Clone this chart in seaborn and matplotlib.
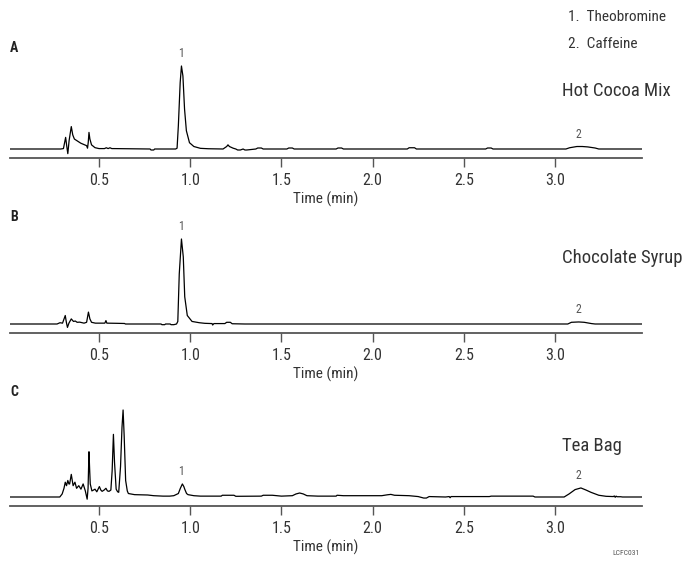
import pandas as pd
import matplotlib
matplotlib.use('Agg')
import matplotlib.pyplot as plt
import seaborn as sns

# chromatogram traces: (time in min, signal in % of tallest peak)
trace_a = [(0.01, 0), (0.29, 0), (0.305, 0.5), (0.317, 14), (0.324, 2), (0.329, -5.6),
           (0.336, 10), (0.348, 27), (0.356, 17), (0.365, 12), (0.40, 7), (0.432, 4),
           (0.437, 1), (0.441, 8), (0.445, 20), (0.45, 12), (0.459, 5), (0.478, 1.6),
           (0.50, 0.5), (0.53, 0.5), (0.54, 1.5), (0.55, 0.5), (0.56, 1.5), (0.57, 0.5),
           (0.58, 0.5), (0.78, 0), (0.785, -1.2), (0.80, -1.2), (0.805, 0), (0.92, 0),
           (0.928, 1), (0.935, 28), (0.945, 80), (0.952, 100), (0.96, 88), (0.969, 48),
           (0.979, 22), (0.996, 7.6), (1.02, 3), (1.056, 0.8), (1.10, 0.3), (1.18, 0),
           (1.20, 3), (1.207, 5), (1.215, 3), (1.235, 1), (1.25, 0), (1.26, -1.2),
           (1.275, -1.2), (1.29, 0), (1.30, -1.2), (1.31, -1.2), (1.36, 0), (1.37, 1.2),
           (1.39, 1.2), (1.40, 0), (1.53, 0), (1.54, 1.2), (1.56, 1.2), (1.57, 0),
           (1.80, 0), (1.81, 1.2), (1.83, 1.2), (1.84, 0), (2.19, 0), (2.20, 1.5),
           (2.23, 1.5), (2.24, 0), (2.62, 0), (2.63, 1.2), (2.65, 1.2), (2.66, 0),
           (3.06, 0), (3.08, 1.5), (3.12, 3), (3.15, 3), (3.18, 2.5), (3.22, 1.2),
           (3.24, 0), (3.48, 0)]

trace_b = [(0.01, 0), (0.27, 0), (0.286, 1.5), (0.30, 1), (0.315, 10), (0.321, 2),
           (0.327, -4), (0.335, 1), (0.348, 6), (0.36, 3), (0.37, 3.5), (0.38, 2),
           (0.394, 2.2), (0.418, 1), (0.432, 2), (0.442, 14), (0.45, 6), (0.459, 2),
           (0.48, 1), (0.52, 1), (0.532, 1), (0.538, 4), (0.543, 1), (0.60, 0.8),
           (0.64, 0.6), (0.645, 0), (0.84, 0), (0.845, -0.8), (0.86, -0.8), (0.865, 0),
           (0.89, 0), (0.895, -0.8), (0.91, -0.8), (0.925, 0), (0.932, 3), (0.94, 59),
           (0.952, 100), (0.962, 79), (0.97, 32), (0.984, 10), (1.01, 3), (1.05, 1.5),
           (1.08, 0.8), (1.12, 0.5), (1.123, -1.2), (1.13, 0.5), (1.19, 0.5), (1.20, 2),
           (1.22, 2), (1.23, 0.3), (1.30, 0), (3.07, 0), (3.09, 2), (3.13, 2.4),
           (3.16, 2), (3.20, 0.5), (3.22, 0), (3.48, 0)]

trace_c = [(0.01, 0), (0.285, 0), (0.298, 3.5), (0.308, 10), (0.315, 17), (0.322, 13),
           (0.329, 19), (0.335, 15), (0.339, 15), (0.348, 26), (0.358, 13), (0.368, 17),
           (0.377, 10), (0.389, 13), (0.401, 9), (0.413, 15), (0.425, 7), (0.435, -2.5),
           (0.440, 10), (0.445, 52), (0.449, 30), (0.452, 15), (0.461, 7), (0.47, 8),
           (0.478, 9), (0.488, 6), (0.502, 12), (0.51, 8), (0.517, 6.5), (0.528, 8),
           (0.538, 10), (0.546, 7), (0.555, 6.5), (0.565, 8), (0.572, 30), (0.579, 72),
           (0.585, 40), (0.594, 9), (0.602, 6), (0.608, 5.4), (0.618, 35), (0.626, 80),
           (0.632, 100), (0.638, 70), (0.646, 19), (0.655, 7), (0.661, 4), (0.695, 2.7),
           (0.767, 2.3), (0.80, 1.5), (0.851, 1), (0.887, 1), (0.91, 1.5), (0.935, 4),
           (0.946, 10), (0.957, 15), (0.965, 12), (0.97, 9), (0.98, 4), (0.988, 2.7),
           (1.02, 1.5), (1.056, 1), (1.17, 1), (1.176, 2), (1.24, 2), (1.25, 0.8),
           (1.39, 1), (1.40, 2), (1.45, 2), (1.50, 1), (1.56, 1.5), (1.58, 3.5),
           (1.60, 4.6), (1.62, 3.5), (1.64, 1.5), (1.70, 1), (1.80, 1), (1.805, 2),
           (1.84, 1.5), (2.05, 1.5), (2.08, 2.5), (2.10, 3), (2.12, 2), (2.20, 1.5),
           (2.25, 0.5), (2.28, -1.2), (2.295, -1.2), (2.31, 0.5), (2.40, 0), (2.42, 0.5),
           (2.425, -0.8), (2.43, 0.5), (2.64, 0.5), (2.65, 1), (2.88, 1), (2.89, 0),
           (3.05, 0), (3.077, 3.5), (3.11, 8.5), (3.142, 10.4), (3.17, 8), (3.197, 5.4),
           (3.24, 2), (3.28, 0.8), (3.32, 0.5), (3.325, 1.2), (3.33, -0.3), (3.335, 1),
           (3.34, 0.3), (3.36, 0.3), (3.37, 0), (3.48, 0)]

panel_letters = ['A', 'B', 'C']
sample_names = ['Hot Cocoa Mix', 'Chocolate Syrup', 'Tea Bag']
peak_labels = ['1', '2']
peak_times = [0.952, 3.13]
legend_lines = ['1.  Theobromine', '2.  Caffeine']
tick_values = [0.5, 1.0, 1.5, 2.0, 2.5, 3.0]
tick_labels = ['0.5', '1.0', '1.5', '2.0', '2.5', '3.0']

sns.set_theme(style='white')
plt.rcParams['font.family'] = ['Roboto Condensed', 'Liberation Sans Narrow',
                               'Noto Sans', 'DejaVu Sans']
plt.rcParams['font.stretch'] = 'condensed'

W, H = 683, 561
fig = plt.figure(figsize=(W / 100, H / 100), dpi=100)

traces = [trace_a, trace_b, trace_c]
axis_y = [158, 333, 506]          # pixel row of each time axis
px_per_unit = [0.83, 0.85, 0.87]  # vertical scale of each trace
name_y = [91, 258, 446]
letter_y = [48, 217, 392]
ax_h = 100
base_off = 9
axes = []

for i, tr in enumerate(traces):
    df = pd.DataFrame(tr, columns=['time', 'signal'])
    ax = fig.add_axes([10 / W, (H - axis_y[i]) / H, 632 / W, ax_h / H])
    sns.lineplot(data=df, x='time', y='signal', ax=ax, color='black',
                 linewidth=0.9, estimator=None, sort=False)
    s = px_per_unit[i]
    ax.set_ylim(-base_off / s, (ax_h - base_off) / s)
    ax.set_xlim(0.012, 3.477)
    for sp in ['top', 'right', 'left']:
        ax.spines[sp].set_visible(False)
    ax.spines['bottom'].set_color('#555555')
    ax.spines['bottom'].set_linewidth(1.3)
    ax.set_yticks([])
    ax.set_ylabel('')
    ax.set_xticks(tick_values)
    ax.set_xticklabels(tick_labels)
    ax.tick_params(axis='x', direction='out', length=6.5, width=1, color='#555555',
                   labelsize=11.5, labelcolor='#333333', pad=4, bottom=True)
    ax.set_xlabel('Time (min)', fontsize=11, color='#333333', labelpad=3)
    ax.patch.set_alpha(0)

    # peak number labels
    for lab, t in zip(peak_labels, peak_times):
        near = df.iloc[(df['time'] - t).abs().argsort()[:3]]
        top = near['signal'].max()
        ax.annotate(lab, (t, top), xytext=(0, 4), textcoords='offset points',
                    ha='center', va='bottom', fontsize=8.5, color='#555555')

    fig.text(14 / W, 1 - letter_y[i] / H, panel_letters[i], fontsize=10,
             fontweight='bold', ha='center', va='center', color='#222222')
    fig.text(562 / W, 1 - name_y[i] / H, sample_names[i], fontsize=13.5,
             ha='left', va='center', color='#333333')
    axes.append(ax)

fig.text(568 / W, 1 - 17 / H, legend_lines[0], fontsize=11, ha='left',
         va='center', color='#333333')
fig.text(568 / W, 1 - 44 / H, legend_lines[1], fontsize=11, ha='left',
         va='center', color='#333333')
fig.text(640 / W, 1 - 553 / H, 'LCFC031', fontsize=5.5, ha='right',
         va='center', color='#555555')

fig.savefig('out.png', dpi=100)
